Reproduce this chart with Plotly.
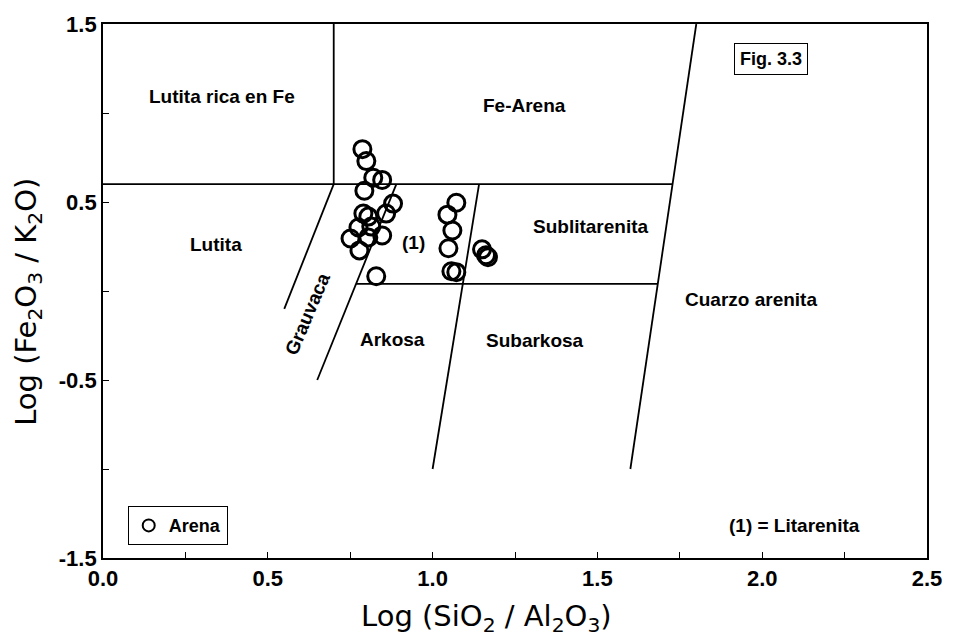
import plotly.graph_objects as go

# Sample points: log(SiO2/Al2O3) and log(Fe2O3/K2O)
log_si_al = [0.787, 0.799, 0.820, 0.847, 0.793, 0.880, 0.859, 0.790, 0.805,
             0.775, 0.814, 0.847, 0.751, 0.805, 0.778, 0.829,
             1.072, 1.045, 1.060, 1.048, 1.057, 1.072, 1.150, 1.162, 1.168]
log_fe_k = [0.797, 0.730, 0.636, 0.624, 0.563, 0.491, 0.435, 0.435, 0.418,
            0.357, 0.362, 0.312, 0.295, 0.301, 0.228, 0.083,
            0.496, 0.429, 0.340, 0.240, 0.111, 0.106, 0.234, 0.201, 0.190]

# Field boundaries of the classification diagram (x pairs, y pairs)
boundaries = [
    ([0.0, 1.728], [0.6, 0.6]),      # upper horizontal
    ([0.7, 0.7], [0.6, 1.5]),        # shale / Fe-sand split
    ([0.55, 0.7], [-0.1, 0.6]),      # shale / wacke
    ([0.65, 0.89], [-0.5, 0.6]),     # wacke / arkose
    ([0.768, 1.683], [0.04, 0.04]),  # lower horizontal
    ([1.0, 1.141], [-1.0, 0.6]),     # arkose / subarkose
    ([1.6, 1.8], [-1.0, 1.5]),       # quartz arenite
]

field_names = ["Lutita rica en Fe", "Fe-Arena", "Lutita", "(1)", "Sublitarenita",
               "Cuarzo arenita", "Arkosa", "Subarkosa", "(1) = Litarenita"]
field_x = [0.362, 1.279, 0.343, 0.943, 1.48, 1.966, 0.877, 1.312, 2.098]
field_y = [1.09, 1.04, 0.26, 0.27, 0.36, -0.05, -0.27, -0.28, -1.32]

x_ticks = [0.0, 0.25, 0.5, 0.75, 1.0, 1.25, 1.5, 1.75, 2.0, 2.25, 2.5]
x_labels = ["0.0", "", "0.5", "", "1.0", "", "1.5", "", "2.0", "", "2.5"]
y_ticks = [-1.5, -1.0, -0.5, 0.0, 0.5, 1.0, 1.5]
y_labels = ["-1.5", "", "-0.5", "", "0.5", "", "1.5"]

x_title = "Log (SiO<sub>2</sub> / Al<sub>2</sub>O<sub>3</sub>)"
y_title = "Log (Fe<sub>2</sub>O<sub>3</sub> / K<sub>2</sub>O)"

FONT = "Arial, Liberation Sans, sans-serif"
TITLE_FONT = dict(family="DejaVu Sans, Arial, sans-serif", size=29, color="black")

fig = go.Figure()

for bx, by in boundaries:
    fig.add_trace(go.Scatter(x=bx, y=by, mode="lines",
                             line=dict(color="black", width=1.8),
                             showlegend=False, hoverinfo="skip"))

fig.add_trace(go.Scatter(
    x=log_si_al, y=log_fe_k, mode="markers", name="Arena",
    marker=dict(symbol="circle-open", size=17, color="black",
                line=dict(color="black", width=3)),
))

for name, tx, ty in zip(field_names, field_x, field_y):
    fig.add_annotation(x=tx, y=ty, text=name, showarrow=False,
                       font=dict(family=FONT, size=19, color="black", weight="bold"))

fig.add_annotation(x=0.619, y=-0.13, text="Grauvaca", showarrow=False, textangle=-67,
                   font=dict(family=FONT, size=19, color="black", weight="bold"))

fig.add_annotation(x=2.028, y=1.305, text="Fig. 3.3", showarrow=False,
                   bordercolor="black", borderwidth=1, borderpad=5, bgcolor="white",
                   font=dict(family=FONT, size=18, color="black", weight="bold"))

# Axis titles
fig.add_annotation(xref="paper", yref="paper", x=0.466, y=-0.112, text=x_title,
                   xanchor="center", yanchor="middle",
                   showarrow=False, font=TITLE_FONT)
fig.add_annotation(xref="paper", yref="paper", x=-0.092, y=0.48, text=y_title,
                   xanchor="center", yanchor="middle",
                   showarrow=False, textangle=-90, font=TITLE_FONT)

axis_common = dict(showline=True, linecolor="black", linewidth=1.8, mirror=True,
                   showgrid=False, zeroline=False, ticks="inside", ticklen=6,
                   tickwidth=1.2, tickcolor="black", tickmode="array",
                   tickfont=dict(family=FONT, size=22, color="black", weight="bold"))

fig.update_xaxes(range=[0, 2.5], tickvals=x_ticks, ticktext=x_labels, **axis_common)
fig.update_yaxes(range=[-1.5, 1.5], tickvals=y_ticks, ticktext=y_labels, **axis_common)

fig.update_layout(
    width=954, height=639,
    margin=dict(l=103, r=18, t=20, b=81),
    paper_bgcolor="white", plot_bgcolor="white",
    showlegend=True,
    legend=dict(x=0.030, y=0.097, xanchor="left", yanchor="top",
                bordercolor="black", borderwidth=1, bgcolor="white",
                font=dict(family=FONT, size=18, color="black", weight="bold"),
                itemsizing="constant"),
)

fig.write_html("out.html")
